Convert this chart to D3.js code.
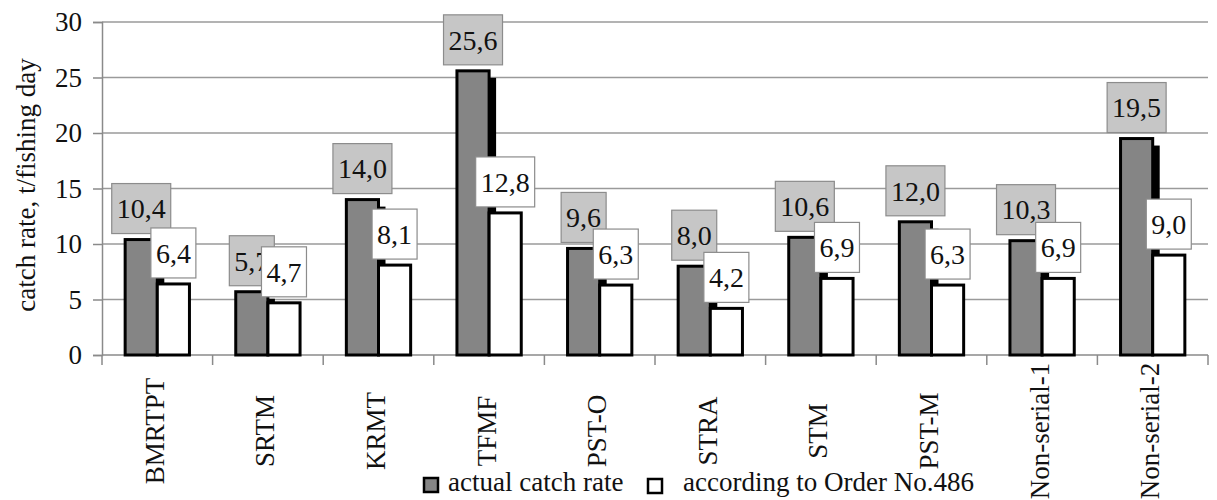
<!DOCTYPE html>
<html>
<head>
<meta charset="utf-8">
<script src="https://cdn.jsdelivr.net/npm/d3@7"></script>
<style>
  html, body { margin: 0; padding: 0; background: #fff; }
  svg { display: block; font-family: "Liberation Serif", "DejaVu Serif", serif; }
</style>
</head>
<body>
<div id="chart"></div>
<script>
// data
const categories = ['BMRTPT', 'SRTM', 'KRMT', 'TFMF', 'PST-O', 'STRA', 'STM', 'PST-M', 'Non-serial-1', 'Non-serial-2'];
const actualRate = [10.4, 5.7, 14.0, 25.6, 9.6, 8.0, 10.6, 12.0, 10.3, 19.5];
const orderRate = [6.4, 4.7, 8.1, 12.8, 6.3, 4.2, 6.9, 6.3, 6.9, 9.0];
const yTicks = [0, 5, 10, 15, 20, 25, 30];
const seriesNames = ['actual catch rate', 'according to Order No.486'];

const width = 1217, height = 500;
const plotLeft = 102, plotRight = 1208, plotTop = 22, plotBottom = 355;

const svg = d3.select('#chart').append('svg')
  .attr('width', width)
  .attr('height', height);

const x0 = d3.scaleBand().domain(categories).range([plotLeft, plotRight]).paddingInner(0).paddingOuter(0);
const x1 = d3.scaleBand().domain(['actual', 'order']).range([0, x0.bandwidth()]).paddingInner(0).paddingOuter(0.72);
const y = d3.scaleLinear().domain([0, 30]).range([plotBottom, plotTop]);

// grid lines
svg.append('g')
  .selectAll('line')
  .data(yTicks.filter(d => d > 0))
  .enter()
  .append('line')
  .attr('x1', plotLeft).attr('x2', plotRight)
  .attr('y1', d => y(d)).attr('y2', d => y(d))
  .attr('stroke', '#9a9a9a')
  .attr('stroke-width', 1.5);

// y axis
const yAxis = svg.append('g')
  .attr('transform', `translate(${plotLeft},0)`)
  .call(d3.axisLeft(y).tickValues(yTicks).tickSize(9).tickPadding(11));
yAxis.select('.domain').attr('stroke', '#8a8a8a').attr('stroke-width', 1.5);
yAxis.selectAll('.tick line').attr('stroke', '#8a8a8a').attr('stroke-width', 1.5);
yAxis.selectAll('.tick text')
  .attr('font-family', '"Liberation Serif", serif')
  .attr('font-size', 27)
  .attr('fill', '#111');

// x axis
svg.append('line')
  .attr('x1', plotLeft).attr('x2', plotRight)
  .attr('y1', plotBottom).attr('y2', plotBottom)
  .attr('stroke', '#8a8a8a')
  .attr('stroke-width', 1.5);

const boundaries = categories.map(c => x0(c)).concat([x0(categories[categories.length - 1]) + x0.bandwidth()]);
svg.append('g')
  .selectAll('line')
  .data(boundaries)
  .enter()
  .append('line')
  .attr('x1', d => d).attr('x2', d => d)
  .attr('y1', plotBottom).attr('y2', plotBottom + 10)
  .attr('stroke', '#8a8a8a')
  .attr('stroke-width', 1.5);

// category names, rotated and centred under each group
svg.append('g')
  .selectAll('text')
  .data(categories)
  .enter()
  .append('text')
  .attr('transform', d => `translate(${x0(d) + x0.bandwidth() / 2 - 3},431) rotate(-90)`)
  .attr('text-anchor', 'middle')
  .attr('dy', '0.35em')
  .attr('font-size', 27)
  .attr('fill', '#111')
  .text(d => d);

// y axis title
svg.append('text')
  .attr('transform', 'translate(35,185) rotate(-90)')
  .attr('text-anchor', 'middle')
  .attr('font-size', 27)
  .attr('fill', '#111')
  .text('catch rate, t/fishing day');

// bars
const groups = svg.append('g')
  .selectAll('g')
  .data(categories.map((c, i) => ({ name: c, actual: actualRate[i], order: orderRate[i] })))
  .enter()
  .append('g')
  .attr('transform', d => `translate(${x0(d.name)},0)`);

const bw = x1.bandwidth();
const shadow = 7;

// shadow behind the grey bar
groups.append('rect')
  .attr('x', x1('actual') + shadow)
  .attr('y', d => y(d.actual) + shadow)
  .attr('width', bw)
  .attr('height', d => Math.max(0, y(0) - y(d.actual) - shadow))
  .attr('fill', '#000');

groups.append('rect')
  .attr('x', x1('actual'))
  .attr('y', d => y(d.actual))
  .attr('width', bw)
  .attr('height', d => y(0) - y(d.actual))
  .attr('fill', '#858585')
  .attr('stroke', '#000')
  .attr('stroke-width', 3);

groups.append('rect')
  .attr('x', x1('order'))
  .attr('y', d => y(d.order))
  .attr('width', bw)
  .attr('height', d => y(0) - y(d.order))
  .attr('fill', '#fff')
  .attr('stroke', '#000')
  .attr('stroke-width', 3);

// value labels in boxes
const fmt = v => v.toFixed(1).replace('.', ',');
const boxH = 50, gap = 6;

function addLabels(key, fill) {
  const lab = groups.append('g')
    .attr('transform', d => `translate(${x1(key) + bw / 2},${y(d[key]) - gap - boxH / 2})`);
  lab.append('text')
    .attr('text-anchor', 'middle')
    .attr('dy', '0.35em')
    .attr('font-size', 28)
    .attr('fill', '#111')
    .text(d => fmt(d[key]));
  lab.each(function () {
    const g = d3.select(this);
    const w = g.select('text').node().getComputedTextLength() + 10;
    g.insert('rect', 'text')
      .attr('x', -w / 2)
      .attr('y', -boxH / 2)
      .attr('width', w)
      .attr('height', boxH)
      .attr('fill', fill)
      .attr('stroke', '#8c8c8c')
      .attr('stroke-width', 1.2);
  });
}
addLabels('actual', '#c6c6c6');
addLabels('order', '#fff');

// legend
const legend = svg.append('g');
legend.append('rect')
  .attr('x', 424).attr('y', 478).attr('width', 14).attr('height', 14)
  .attr('fill', '#858585').attr('stroke', '#000').attr('stroke-width', 2.5);
legend.append('text')
  .attr('x', 448).attr('y', 491)
  .attr('font-size', 27).attr('fill', '#111')
  .text(seriesNames[0]);
legend.append('rect')
  .attr('x', 648).attr('y', 479).attr('width', 14).attr('height', 14)
  .attr('fill', '#fff').attr('stroke', '#000').attr('stroke-width', 2.5);
legend.append('text')
  .attr('x', 683).attr('y', 491)
  .attr('font-size', 27).attr('fill', '#111')
  .text(seriesNames[1]);
</script>
</body>
</html>
